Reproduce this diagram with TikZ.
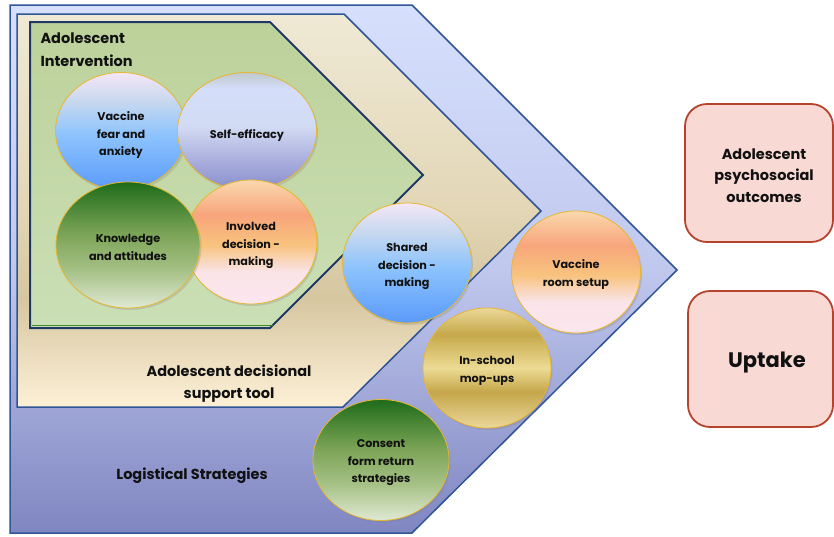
\documentclass[tikz,border=0pt]{standalone}
\usepackage{fontspec}
\setmainfont{Poppins}[BoldFont={Poppins Bold}]
\usetikzlibrary{shapes.geometric,shadows}

% palette
\definecolor{frameblue}{HTML}{2F5597}
\definecolor{navy}{HTML}{1F3864}
\definecolor{ringgold}{HTML}{E8B630}
\definecolor{boxfill}{HTML}{F9D9D4}
\definecolor{boxline}{HTML}{B5432D}
\definecolor{ink}{HTML}{111111}
\definecolor{leafline}{HTML}{3A8A2A}
\definecolor{greentop}{HTML}{BCD19A}
\definecolor{greenbot}{HTML}{CBDFB6}

% gradient stops
\definecolor{dbA}{HTML}{5B9AFA}\definecolor{dbB}{HTML}{8CC3FD}\definecolor{dbC}{HTML}{C4D7EF}\definecolor{dbD}{HTML}{F5E6F6}
\definecolor{hzA}{HTML}{8B8FCC}\definecolor{hzB}{HTML}{A8ADDD}\definecolor{hzC}{HTML}{D2DBF3}\definecolor{hzD}{HTML}{D4DEFA}\definecolor{hzE}{HTML}{C0C8CC}
\definecolor{mdA}{HTML}{DFE9D4}\definecolor{mdB}{HTML}{A6C186}\definecolor{mdC}{HTML}{7AA355}\definecolor{mdD}{HTML}{1E6B1A}
\definecolor{ssA}{HTML}{FBE6EE}\definecolor{ssB}{HTML}{FAE4E8}\definecolor{ssC}{HTML}{F8C27D}\definecolor{ssD}{HTML}{F8A57C}\definecolor{ssE}{HTML}{FAD8AE}
\definecolor{brA}{HTML}{EAD79A}\definecolor{brB}{HTML}{C5A64A}\definecolor{brC}{HTML}{ECDB94}\definecolor{brD}{HTML}{C6A84A}\definecolor{brE}{HTML}{EBD898}
\definecolor{obA}{HTML}{8086C1}\definecolor{obB}{HTML}{C0C8EE}\definecolor{obC}{HTML}{D6E0FC}
\definecolor{tbA}{HTML}{FDF0D6}\definecolor{tbB}{HTML}{D6C6A0}\definecolor{tbC}{HTML}{E2D6B6}\definecolor{tbD}{HTML}{EFE9D5}

% gradients (stops listed bottom to top, 25bp = bottom edge, 75bp = top edge)
\pgfdeclareverticalshading{daybreak}{100bp}{color(0bp)=(dbA); color(25bp)=(dbA);
  color(48bp)=(dbB); color(62bp)=(dbC); color(75bp)=(dbD); color(100bp)=(dbD)}
\pgfdeclareverticalshading{horizon}{100bp}{color(0bp)=(hzA); color(25bp)=(hzA);
  color(37bp)=(hzB); color(52bp)=(hzC); color(68bp)=(hzD); color(75bp)=(hzE); color(100bp)=(hzE)}
\pgfdeclareverticalshading{meadow}{100bp}{color(0bp)=(mdA); color(25bp)=(mdA);
  color(40bp)=(mdB); color(55bp)=(mdC); color(75bp)=(mdD); color(100bp)=(mdD)}
\pgfdeclareverticalshading{sunset}{100bp}{color(0bp)=(ssA); color(25bp)=(ssA);
  color(38bp)=(ssB); color(49bp)=(ssC); color(61bp)=(ssD); color(75bp)=(ssE); color(100bp)=(ssE)}
\pgfdeclareverticalshading{brass}{100bp}{color(0bp)=(brA); color(25bp)=(brA);
  color(40bp)=(brB); color(50bp)=(brC); color(64bp)=(brD); color(75bp)=(brE); color(100bp)=(brE)}
\pgfdeclareverticalshading{outerband}{100bp}{color(0bp)=(obA); color(25bp)=(obA);
  color(50bp)=(obB); color(75bp)=(obC); color(100bp)=(obC)}
\pgfdeclareverticalshading{toolband}{100bp}{color(0bp)=(tbA); color(25bp)=(tbA);
  color(39bp)=(tbB); color(50bp)=(tbC); color(75bp)=(tbD); color(100bp)=(tbD)}

\tikzset{
  bubble/.style={ellipse, inner sep=0pt, draw=ringgold, line width=0.8pt,
    drop shadow={opacity=0.25, shadow xshift=1.5pt, shadow yshift=-2pt}},
  bubtext/.style={text=ink, font=\fontsize{11.2}{17.5}\selectfont\bfseries, align=center},
  heading/.style={text=ink, font=\fontsize{14.5}{21.5}\selectfont\bfseries},
  outcome/.style={draw=boxline, fill=boxfill, line width=1.8pt, rounded corners=22pt},
}

\begin{document}
\begin{tikzpicture}[x=1pt,y=-1pt]
\useasboundingbox (0,0) rectangle (834,536);

% logistical strategies band
\path[shading=outerband, draw=frameblue, line width=1.5pt, line join=miter]
  (10,5) -- (412,5) -- (677,270) -- (412,533) -- (10,533) -- cycle;
% decisional support tool band
\path[shading=toolband, draw=frameblue, line width=1.5pt]
  (17,14) -- (344,14) -- (541,211) -- (343,407) -- (17,407) -- cycle;
% intervention band
\path[top color=greentop, bottom color=greenbot, draw=navy, line width=2pt]
  (30,22) -- (270,22) -- (423,175) -- (270,328) -- (30,328) -- cycle;
\draw[leafline, line width=1.5pt] (31.5,325.5) -- (272.5,325.5);

% band titles
\node[heading, anchor=west, align=left, font=\fontsize{14.5}{23}\selectfont\bfseries] (intv) at (37,49.5) {Adolescent\\Intervention};
\node[heading, align=center] (tool) at (229,383.5) {Adolescent decisional\\support tool};
\node[heading] (logi) at (192,475.5) {Logistical Strategies};

% intervention bubbles (drawn back to front)
\node[bubble, shading=daybreak, minimum width=131pt, minimum height=117pt] (fear) at (121,131) {};
\node[bubtext] (fearT) at ([yshift=-4pt]fear.center) {Vaccine\\fear and\\anxiety};
\node[bubble, shading=horizon, minimum width=139pt, minimum height=117pt] (eff) at (247,131) {};
\node[bubtext] (effT) at ([yshift=-4pt]eff.center) {Self-efficacy};
\node[bubble, shading=sunset, minimum width=132pt, minimum height=124pt] (inv) at (251,242) {};
\node[bubtext] (invT) at ([yshift=-3.5pt]inv.center) {Involved\\decision -\\making};
\node[bubble, shading=meadow, minimum width=144pt, minimum height=126pt] (know) at (128,245) {};
\node[bubtext] (knowT) at ([yshift=-2.5pt]know.center) {Knowledge\\and attitudes};

% decision tool bubble
\node[bubble, shading=daybreak, minimum width=129pt, minimum height=120pt] (shared) at (407,263) {};
\node[bubtext] (sharedT) at ([yshift=-3.5pt]shared.center) {Shared\\decision -\\making};

% logistical bubbles
\node[bubble, shading=sunset, minimum width=129pt, minimum height=122pt] (room) at (576,272) {};
\node[bubtext] (roomT) at ([yshift=-2.5pt]room.center) {Vaccine\\room setup};
\node[bubble, shading=brass, minimum width=128pt, minimum height=120pt] (mop) at (487,368) {};
\node[bubtext] (mopT) at ([yshift=-3pt]mop.center) {In-school\\mop-ups};
\node[bubble, shading=meadow, minimum width=136pt, minimum height=121pt] (consent) at (381,460) {};
\node[bubtext] (consentT) at ([yshift=-3pt]consent.center) {Consent\\form return\\strategies};

% outcomes
\draw[outcome] (685,104) rectangle (833,242);
\node[heading, align=center] (psy) at (764,175.5) {Adolescent\\psychosocial\\outcomes};
\draw[outcome] (688,291) rectangle (833,427);
\node[text=ink, font=\fontsize{21}{24}\selectfont\bfseries] (upt) at (767,363) {Uptake};
\end{tikzpicture}
\end{document}
